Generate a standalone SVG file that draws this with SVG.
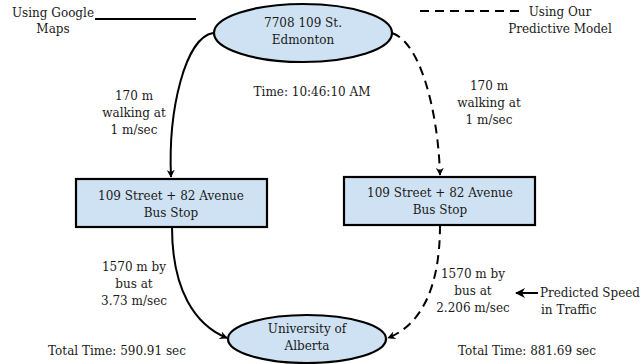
<svg xmlns="http://www.w3.org/2000/svg" width="642" height="364" viewBox="0 0 642 364">
<defs>
<marker id="arr" viewBox="0 0 10 10" refX="9" refY="5" markerWidth="8" markerHeight="8" markerUnits="userSpaceOnUse" orient="auto">
<path d="M0,0 L10,5 L0,10 L3,5 Z" fill="#000"/>
</marker>
<marker id="arr2" viewBox="0 0 10 10" refX="9" refY="5" markerWidth="10" markerHeight="10" markerUnits="userSpaceOnUse" orient="auto">
<path d="M0,0 L10,5 L0,10 L3,5 Z" fill="#000"/>
</marker>
</defs>
<style>
text{font-family:"DejaVu Serif","Liberation Serif",serif;font-size:12px;fill:#1a1a1a;text-anchor:middle}
.node{fill:#cfe2f3;stroke:#000;stroke-width:2.2}
.edge{fill:none;stroke:#000;stroke-width:2}
.dash{stroke-dasharray:9,6}
.l{text-anchor:start}
</style>
<rect width="642" height="364" fill="#fff"/>
<g id="legend">
<text x="53" y="17">Using Google</text>
<text x="53" y="33">Maps</text>
<line x1="95" y1="19" x2="196" y2="19" stroke="#000" stroke-width="2"/>
<line x1="420" y1="11" x2="523" y2="11" stroke="#000" stroke-width="2" stroke-dasharray="9,6"/>
<text x="560" y="16">Using Our</text>
<text x="560" y="33">Predictive Model</text>
</g>
<g id="connectors">
<path class="edge" d="M213,33 C185,38 168,110 171,177" marker-end="url(#arr)"/>
<path class="edge dash" d="M392,33 C420,42 438,110 440,175" marker-end="url(#arr)"/>
<path class="edge" d="M172,227 C172,290 195,325 227,338" marker-end="url(#arr)"/>
<path class="edge dash" d="M440,225 C440,290 420,325 388,338" marker-end="url(#arr)"/>
<line x1="538" y1="293" x2="516" y2="293" stroke="#000" stroke-width="2" marker-end="url(#arr2)"/>
</g>
<g id="start">
<ellipse class="node" cx="303" cy="33" rx="89" ry="29"/>
<text x="303" y="27">7708 109 St.</text>
<text x="303" y="44">Edmonton</text>
</g>
<g id="stop-left">
<rect class="node" x="76" y="179" width="191" height="48"/>
<text x="171" y="200">109 Street + 82 Avenue</text>
<text x="171" y="217">Bus Stop</text>
</g>
<g id="stop-right">
<rect class="node" x="344" y="177" width="191" height="48"/>
<text x="440" y="197">109 Street + 82 Avenue</text>
<text x="440" y="214">Bus Stop</text>
</g>
<g id="end">
<ellipse class="node" cx="307" cy="339" rx="79" ry="24"/>
<text x="307" y="333">University of</text>
<text x="307" y="350">Alberta</text>
</g>
<g id="labels">
<text x="312" y="96">Time: 10:46:10 AM</text>
<text x="134" y="100">170 m</text>
<text x="134" y="117">walking at</text>
<text x="134" y="134">1 m/sec</text>
<text x="489" y="90">170 m</text>
<text x="489" y="107">walking at</text>
<text x="489" y="124">1 m/sec</text>
<text x="134" y="271">1570 m by</text>
<text x="134" y="288">bus at</text>
<text x="134" y="305">3.73 m/sec</text>
<text x="473" y="278">1570 m by</text>
<text x="473" y="295">bus at</text>
<text x="473" y="312">2.206 m/sec</text>
<text class="l" x="540" y="297" textLength="100" lengthAdjust="spacingAndGlyphs">Predicted Speed</text>
<text class="l" x="541" y="314">in Traffic</text>
<text x="117" y="355">Total Time: 590.91 sec</text>
<text x="527" y="355">Total Time: 881.69 sec</text>
</g>
</svg>
